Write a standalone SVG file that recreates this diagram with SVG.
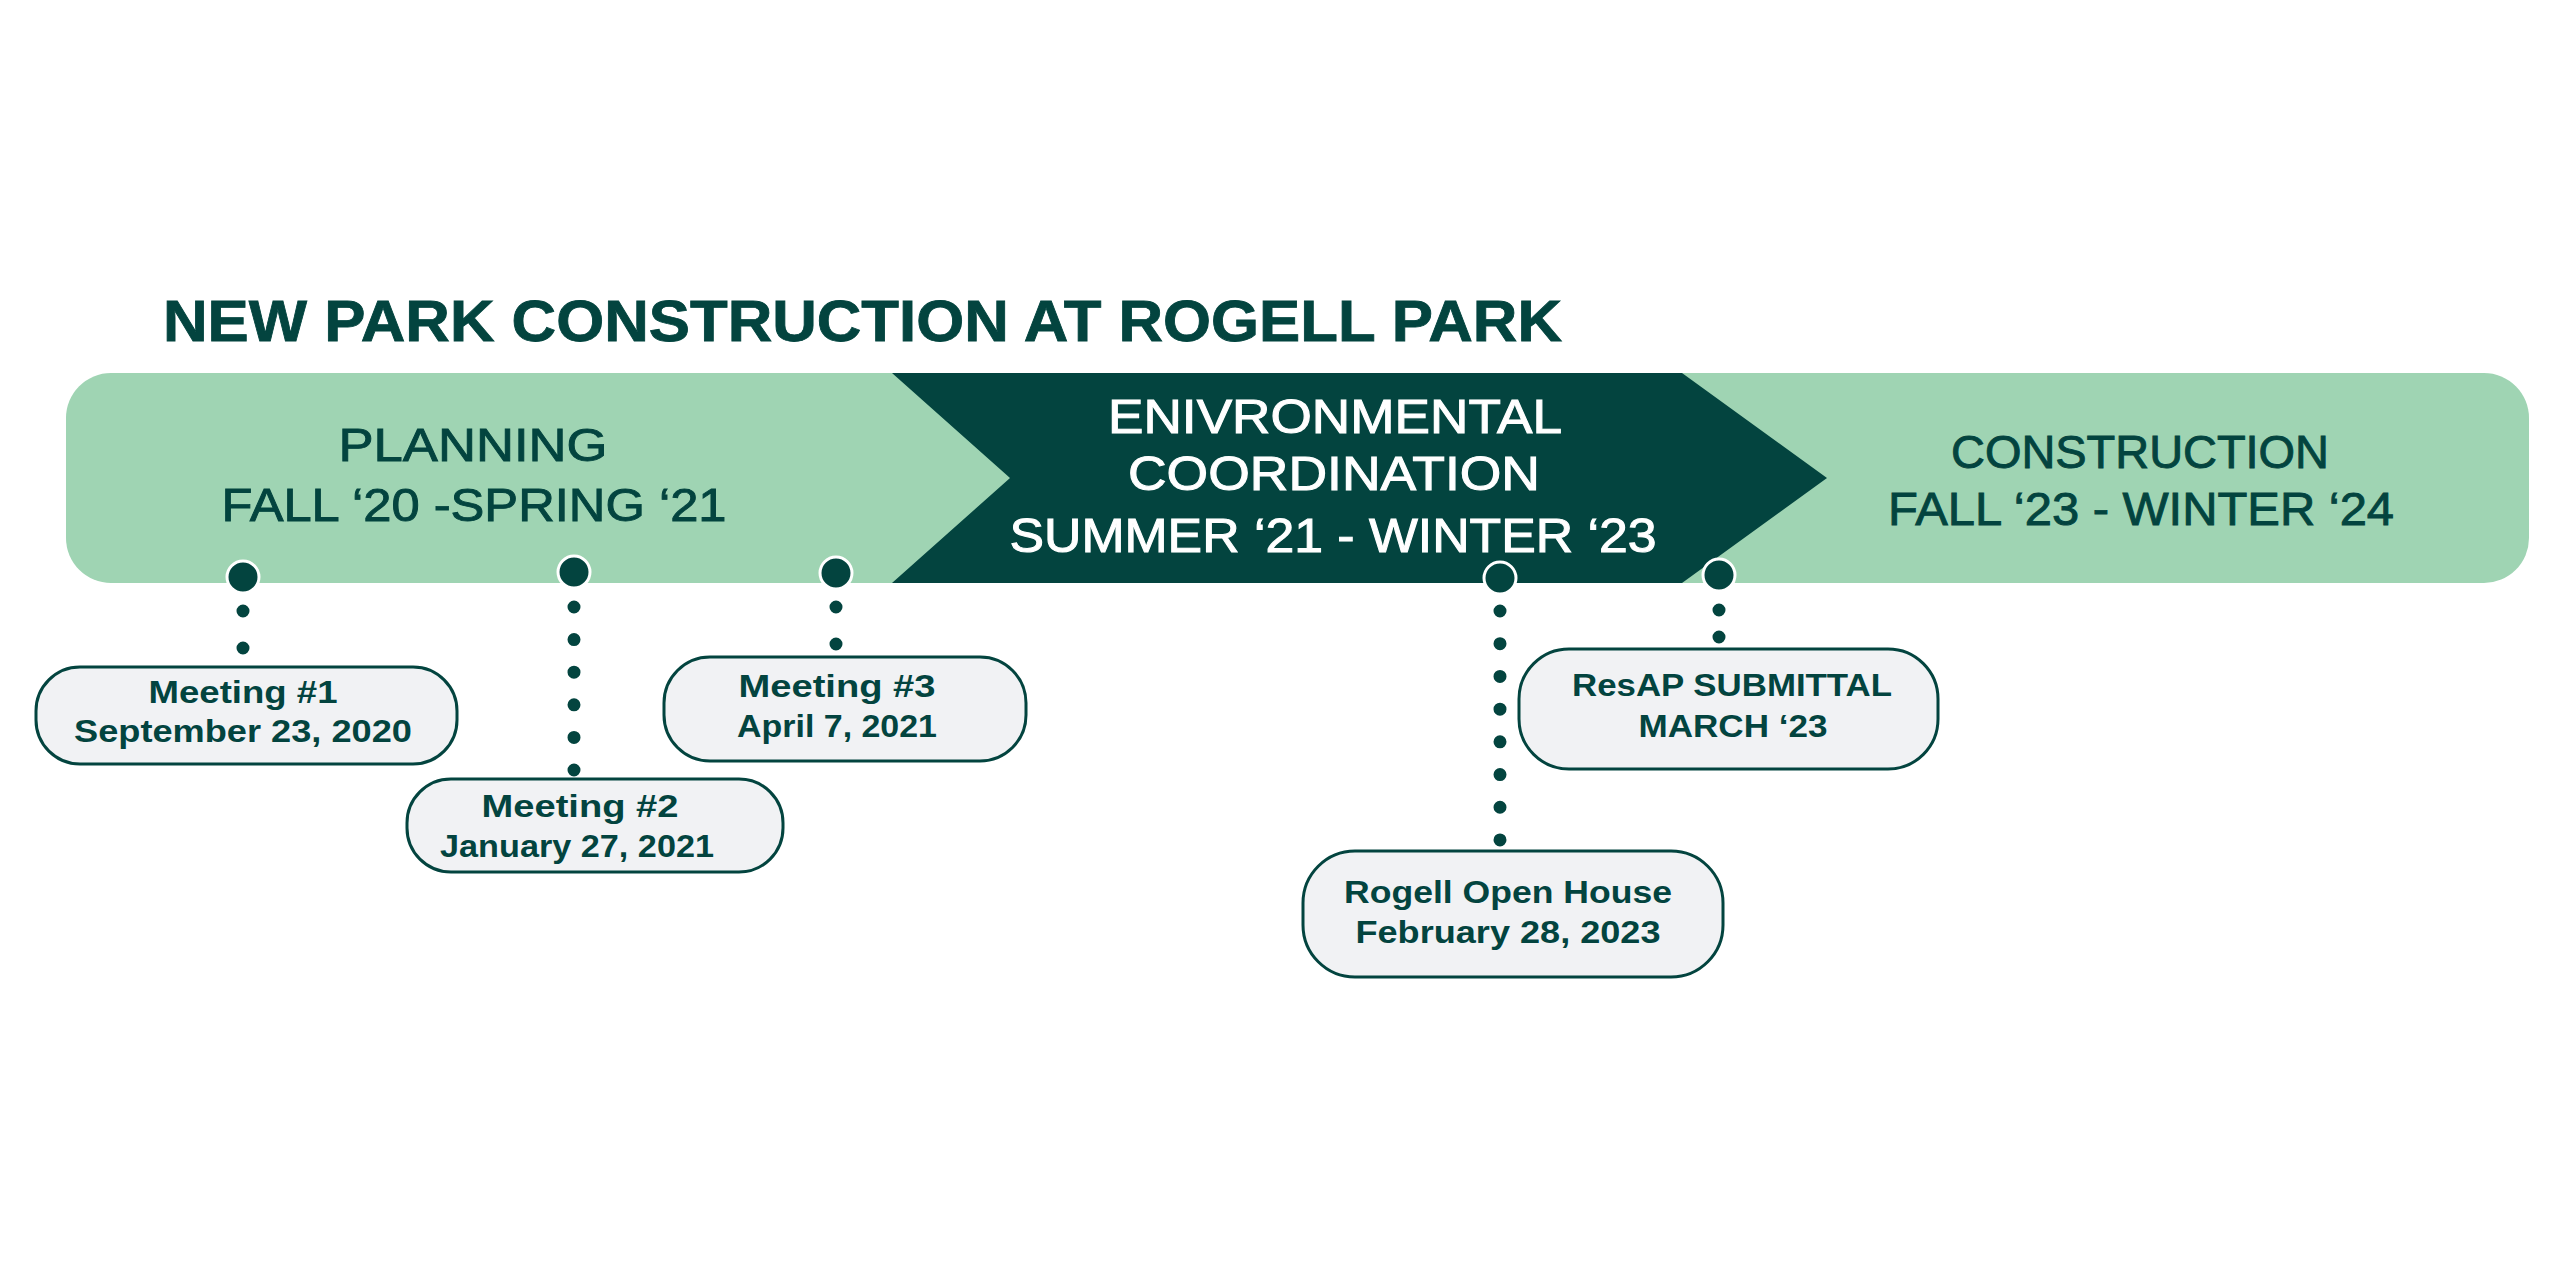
<svg xmlns="http://www.w3.org/2000/svg" width="2560" height="1280" viewBox="0 0 2560 1280">
<style>
.title{font-family:"Liberation Sans",Arial,sans-serif;font-weight:bold;font-size:57px;fill:#03443F;stroke:#03443F;stroke-width:0.8}
.phase{font-family:"Liberation Sans",Arial,sans-serif;font-size:46px;fill:#03443F;stroke:#03443F;stroke-width:0.9;text-anchor:middle}
.phasew{font-family:"Liberation Sans",Arial,sans-serif;font-size:48px;fill:#FFFFFF;stroke:#FFFFFF;stroke-width:1;text-anchor:middle}
.lbl{font-family:"Liberation Sans",Arial,sans-serif;font-weight:bold;font-size:32px;fill:#03443F;text-anchor:middle}
.box{fill:#F1F2F4;stroke:#03443F;stroke-width:3}
.dot{fill:#03443F;stroke:#FFFFFF;stroke-width:3}
.dots{fill:none;stroke:#03443F;stroke-width:13;stroke-linecap:round}
</style>
<rect width="2560" height="1280" fill="#FFFFFF"/>
<text class="title" x="163" y="341" textLength="1399" lengthAdjust="spacingAndGlyphs">NEW PARK CONSTRUCTION AT ROGELL PARK</text>

<g id="band">
<rect x="66" y="373" width="2463" height="210" rx="45" ry="45" fill="#9FD4B3"/>
<polygon points="892,373 1682,373 1827,478 1682,583 892,583 1010,478" fill="#03443F"/>
</g>

<g id="planning">
<text class="phase" x="473" y="461" textLength="269" lengthAdjust="spacingAndGlyphs">PLANNING</text>
<text class="phase" x="474" y="521" textLength="505" lengthAdjust="spacingAndGlyphs">FALL ‘20 -SPRING ‘21</text>
</g>
<g id="environmental">
<text class="phasew" x="1335" y="433" textLength="454" lengthAdjust="spacingAndGlyphs">ENIVRONMENTAL</text>
<text class="phasew" x="1334" y="490" textLength="412" lengthAdjust="spacingAndGlyphs">COORDINATION</text>
<text class="phasew" x="1333" y="552" textLength="647" lengthAdjust="spacingAndGlyphs">SUMMER ‘21 - WINTER ‘23</text>
</g>
<g id="construction">
<text class="phase" x="2140" y="468" textLength="378" lengthAdjust="spacingAndGlyphs">CONSTRUCTION</text>
<text class="phase" x="2141" y="525" textLength="506" lengthAdjust="spacingAndGlyphs">FALL ‘23 - WINTER ‘24</text>
</g>

<g id="connectors">
<path class="dots" d="M243 611 V648.5" stroke-dasharray="0 37"/>
<path class="dots" d="M574 607 V770.5" stroke-dasharray="0 32.6"/>
<path class="dots" d="M836 607 V644.5" stroke-dasharray="0 37"/>
<path class="dots" d="M1500 611 V840.5" stroke-dasharray="0 32.71"/>
<path class="dots" d="M1719 610 V637.5" stroke-dasharray="0 27"/>
<circle class="dot" cx="243" cy="577" r="16"/>
<circle class="dot" cx="574" cy="572" r="16"/>
<circle class="dot" cx="836" cy="573" r="16"/>
<circle class="dot" cx="1500" cy="578" r="16"/>
<circle class="dot" cx="1719" cy="575" r="16"/>
</g>

<g id="meeting1">
<rect class="box" x="36" y="667" width="421" height="97" rx="44"/>
<text class="lbl" x="243" y="703" textLength="189" lengthAdjust="spacingAndGlyphs">Meeting #1</text>
<text class="lbl" x="243" y="742" textLength="338" lengthAdjust="spacingAndGlyphs">September 23, 2020</text>
</g>
<g id="meeting2">
<rect class="box" x="407" y="779" width="376" height="93" rx="44"/>
<text class="lbl" x="580" y="817" textLength="197" lengthAdjust="spacingAndGlyphs">Meeting #2</text>
<text class="lbl" x="577" y="857" textLength="274" lengthAdjust="spacingAndGlyphs">January 27, 2021</text>
</g>
<g id="meeting3">
<rect class="box" x="664" y="657" width="362" height="104" rx="46"/>
<text class="lbl" x="837" y="697" textLength="197" lengthAdjust="spacingAndGlyphs">Meeting #3</text>
<text class="lbl" x="837" y="737" textLength="200" lengthAdjust="spacingAndGlyphs">April 7, 2021</text>
</g>
<g id="resap">
<rect class="box" x="1519" y="649" width="419" height="120" rx="50"/>
<text class="lbl" x="1732" y="696" textLength="320" lengthAdjust="spacingAndGlyphs">ResAP SUBMITTAL</text>
<text class="lbl" x="1733" y="737" textLength="189" lengthAdjust="spacingAndGlyphs">MARCH ‘23</text>
</g>
<g id="openhouse">
<rect class="box" x="1303" y="851" width="420" height="126" rx="52"/>
<text class="lbl" x="1508" y="903" textLength="328" lengthAdjust="spacingAndGlyphs">Rogell Open House</text>
<text class="lbl" x="1508" y="943" textLength="305" lengthAdjust="spacingAndGlyphs">February 28, 2023</text>
</g>
</svg>
